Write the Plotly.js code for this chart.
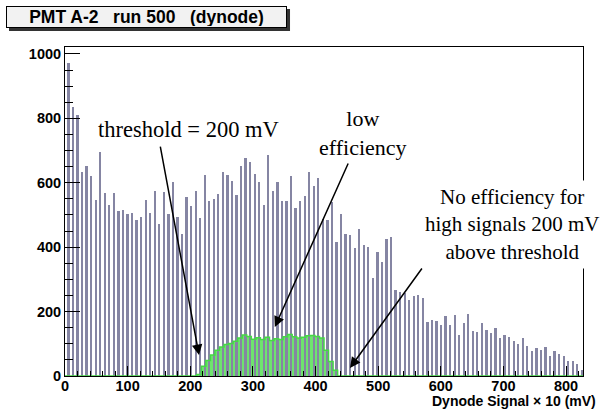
<!DOCTYPE html>
<html>
<head>
<meta charset="utf-8">
<script src="https://cdn.plot.ly/plotly-3.0.1.min.js"></script>
<style>html,body{margin:0;padding:0;background:#fff;}#chart{width:601px;height:410px;}</style>
</head>
<body>
<div id="chart"></div>
<script>
// Histogram binning (ROOT style: 228 bins over 0..827, every other bin filled)
const xMin = 0;
const xMax = 827;
const nBins = 228;

// All-events dynode spectrum (grey bars), one value per filled bin
const allCounts = [
  973, 834, 812, 634, 653, 622, 547, 696, 568, 532,
  568, 513, 517, 503, 506, 486, 493, 547, 507, 576,
  473, 572, 502, 603, 493, 442, 557, 529, 576, 492,
  625, 545, 550, 565, 634, 624, 606, 562, 653, 676,
  665, 627, 601, 531, 687, 576, 601, 545, 545, 622,
  522, 545, 560, 634, 591, 614, 488, 483, 540, 416,
  504, 442, 437, 396, 457, 406, 401, 303, 385, 355,
  427, 432, 267, 262, 257, 236, 250, 252, 242, 168,
  175, 170, 159, 185, 159, 190, 128, 164, 192, 139,
  137, 164, 144, 134, 149, 118, 128, 120, 110, 98,
  118, 92, 79, 87, 82, 89, 62, 79, 67, 62,
  48, 48, 36, 20
];

// Triggered events (green), same bin pairs
const trigCounts = [
  0, 0, 0, 0, 0, 0, 0, 0, 0, 0,
  0, 0, 0, 0, 0, 0, 0, 0, 0, 0,
  0, 0, 0, 0, 0, 0, 0, 0, 0, 5,
  30, 48, 65, 80, 90, 98, 101, 108, 118, 127,
  123, 114, 119, 113, 120, 110, 116, 113, 122, 129,
  122, 118, 120, 125, 126, 123, 118, 80, 45, 18,
  0, 0, 0, 0, 0, 0, 0, 0, 0, 0,
  0, 0, 0, 0, 0, 0, 0, 0, 0, 0,
  0, 0, 0, 0, 0, 0, 0, 0, 0, 0,
  0, 0, 0, 0, 0, 0, 0, 0, 0, 0,
  0, 0, 0, 0, 0, 0, 0, 0, 0, 0,
  0, 0, 0, 0
];

const titleText = "PMT A-2\u00a0\u00a0\u00a0run 500\u00a0\u00a0\u00a0(dynode)";
const xTitleText = "Dynode Signal \u00d7 10 (mV)";

const bw = (xMax - xMin) / nBins;
const greyX = allCounts.map((_, i) => xMin + bw * (2 * i + 1.5));
const pairX = trigCounts.map((_, i) => xMin + bw * (2 * i + 1));
const stepX = trigCounts.map((_, i) => xMin + bw * 2 * i).concat([xMax]);
const stepY = trigCounts.concat([trigCounts[trigCounts.length - 1]]);

const green = '#6ee46e';
const greenLine = '#46d846';
const grey = '#8585a3';

const data = [
  { type: 'bar', x: pairX, y: trigCounts, width: 2 * bw,
    marker: { color: green, line: { width: 0 } }, hoverinfo: 'skip' },
  { type: 'bar', x: greyX, y: allCounts, width: bw,
    marker: { color: grey, line: { width: 0 } }, hoverinfo: 'skip' },
  { type: 'scatter', mode: 'lines', x: stepX, y: stepY,
    line: { shape: 'hv', color: greenLine, width: 1.5 }, hoverinfo: 'skip' }
];

const tickFont = { family: 'Liberation Sans, Arial, sans-serif', size: 14.5, color: '#000', weight: 'bold' };
const titleFont = { family: 'Liberation Sans, Arial, sans-serif', size: 14, color: '#000', weight: 'bold' };
const serifBig = { family: 'Liberation Serif, Times New Roman, serif', size: 22.5, color: '#000' };
const serifMid = { family: 'Liberation Serif, Times New Roman, serif', size: 22, color: '#000' };
const serifSmall = { family: 'Liberation Serif, Times New Roman, serif', size: 21, color: '#000' };

const layout = {
  width: 601, height: 410,
  margin: { l: 65, r: 18, t: 47, b: 34, pad: 0 },
  paper_bgcolor: '#fff', plot_bgcolor: '#fff',
  showlegend: false, barmode: 'overlay', bargap: 0,
  xaxis: {
    range: [xMin, xMax], dtick: 100, tick0: 0,
    ticks: 'inside', ticklen: 10, tickwidth: 1, tickcolor: '#000',
    minor: { dtick: 20, ticks: 'inside', ticklen: 5, tickcolor: '#000', tickwidth: 1 },
    showline: true, linecolor: '#000', linewidth: 1, mirror: true,
    showgrid: false, zeroline: false, tickfont: tickFont, fixedrange: true,
    ticklabelstandoff: -3
  },
  yaxis: {
    range: [0, 1021.7], dtick: 200, tick0: 0,
    ticks: 'inside', ticklen: 15, tickwidth: 1, tickcolor: '#000',
    minor: { dtick: 50, ticks: 'inside', ticklen: 8, tickcolor: '#000', tickwidth: 1 },
    showline: true, linecolor: '#000', linewidth: 1, mirror: true,
    showgrid: false, zeroline: false, tickfont: tickFont, fixedrange: true
  },
  shapes: [
    { type: 'rect', xref: 'paper', yref: 'paper',
      x0: -0.1081, x1: 0.4344, y0: 1.0486, y1: 1.1155,
      fillcolor: '#333', line: { width: 0 } }
  ],
  annotations: [
    { xref: 'paper', yref: 'paper', x: -0.1139, y: 1.1246, xanchor: 'left', yanchor: 'top',
      text: titleText, showarrow: false, width: 277, height: 18, align: 'center',
      bgcolor: '#f2f2f2', bordercolor: '#000', borderwidth: 1, borderpad: 1,
      font: { family: 'Liberation Sans, Arial, sans-serif', size: 17.5, color: '#000', weight: 'bold' } },
    { xref: 'paper', yref: 'paper', x: 1.029, y: -0.076, xanchor: 'right', yanchor: 'middle',
      text: xTitleText, showarrow: false, font: titleFont },
    { xref: 'paper', yref: 'paper', x: 0.2375, y: 0.748, xanchor: 'center', yanchor: 'middle',
      text: 'threshold = 200 mV', showarrow: false, font: serifBig },
    { xref: 'paper', yref: 'paper', x: 0.575, y: 0.739, xanchor: 'center', yanchor: 'middle',
      text: 'low<br>efficiency', showarrow: false, font: serifMid },
    { xref: 'paper', yref: 'paper', x: 0.863, y: 0.4605, xanchor: 'center', yanchor: 'middle',
      text: 'No efficiency for<br>high signals 200 mV<br>above threshold', showarrow: false,
      bgcolor: '#fff', borderpad: 4, font: serifSmall },
    { xref: 'x', yref: 'y', x: 214, y: 65, text: '', showarrow: true,
      ax: -39, ay: -210, arrowhead: 2, arrowsize: 1.4, arrowwidth: 1.5, arrowcolor: '#000' },
    { xref: 'x', yref: 'y', x: 335, y: 152, text: '', showarrow: true,
      ax: 74, ay: -165, arrowhead: 2, arrowsize: 1.4, arrowwidth: 1.5, arrowcolor: '#000' },
    { xref: 'x', yref: 'y', x: 455, y: 25, text: '', showarrow: true,
      ax: 73, ay: -101, arrowhead: 2, arrowsize: 1.4, arrowwidth: 1.5, arrowcolor: '#000' }
  ]
};

Plotly.newPlot('chart', data, layout, { staticPlot: true, displayModeBar: false });
</script>
</body>
</html>
